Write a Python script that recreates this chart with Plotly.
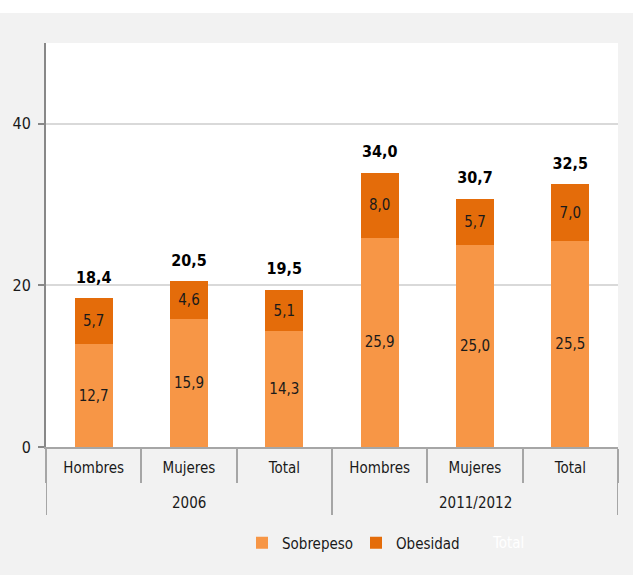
import plotly.graph_objects as go

periods = ["2006", "2006", "2006", "2011/2012", "2011/2012", "2011/2012"]
groups = ["Hombres", "Mujeres", "Total", "Hombres", "Mujeres", "Total"]
sobrepeso = [12.7, 15.9, 14.3, 25.9, 25.0, 25.5]
obesidad = [5.7, 4.6, 5.1, 8.0, 5.7, 7.0]
total = [18.4, 20.5, 19.5, 34.0, 30.7, 32.5]
y_ticks = [0, 20, 40]
period_labels = ["2006", "2011/2012"]

def fmt(v):
    return f"{v:.1f}".replace(".", ",")

FONT = "DejaVu Sans Condensed, DejaVu Sans, sans-serif"
keys = [f"{p}|{g}" for p, g in zip(periods, groups)]

PLOT_W = 633 - 46 - 15
PLOT_H = 575 - 43 - 128

fig = go.Figure()
fig.add_trace(go.Bar(
    x=keys, y=sobrepeso, name="Sobrepeso", marker=dict(color="#F79646", line=dict(width=0)),
    text=[fmt(v) for v in sobrepeso], textposition="inside", insidetextanchor="middle",
    textangle=0, textfont=dict(color="#1a1a1a", size=15, family=FONT),
))
fig.add_trace(go.Bar(
    x=keys, y=obesidad, name="Obesidad", marker=dict(color="#E46C0A", line=dict(width=0)),
    text=[fmt(v) for v in obesidad], textposition="inside", insidetextanchor="middle",
    textangle=0, textfont=dict(color="#1a1a1a", size=15, family=FONT),
))
fig.add_trace(go.Scatter(
    x=keys, y=total, name="Total", mode="markers+text", showlegend=False,
    marker=dict(size=17, color="rgba(0,0,0,0)"),
    text=["<b>" + fmt(v) + "</b>" for v in total], textposition="top center",
    textfont=dict(color="#000000", size=16, family=FONT), hoverinfo="skip",
))

annotations = []
for lab in period_labels:
    idx = [i for i, p in enumerate(periods) if p == lab]
    mid = (idx[0] + idx[-1]) / 2
    annotations.append(dict(x=mid, xref="x", y=-(503 - 447) / PLOT_H, yref="paper",
                            text=lab, showarrow=False, yanchor="middle",
                            font=dict(size=15, family=FONT, color="#1a1a1a")))
# legend entry of the "Total" series (white text, no symbol)
annotations.append(dict(x=(490 - 46) / PLOT_W, xref="paper", xanchor="left",
                        y=-(543 - 447) / PLOT_H, yref="paper", yanchor="middle",
                        text="Total", showarrow=False,
                        font=dict(size=15, family=FONT, color="#ffffff")))

shapes = [dict(type="rect", xref="paper", yref="paper", x0=-0.2, x1=1.2,
               y0=1 + 30 / PLOT_H, y1=1 + 50 / PLOT_H, fillcolor="#ffffff",
               line=dict(width=0), layer="below")]
bounds = [-0.5]
for i in range(1, len(periods)):
    if periods[i] != periods[i - 1]:
        bounds.append(i - 0.5)
bounds.append(len(periods) - 0.5)
for b in bounds:
    shapes.append(dict(type="line", xref="x", yref="paper", x0=b, x1=b,
                       y0=0, y1=-(515 - 447) / PLOT_H,
                       line=dict(color="#a6a6a6", width=2)))

fig.update_layout(
    width=633, height=575,
    barmode="stack", bargap=0.6,
    paper_bgcolor="#f2f2f2", plot_bgcolor="#ffffff",
    margin=dict(l=46, r=15, t=43, b=128, autoexpand=False),
    font=dict(family=FONT, size=15, color="#1a1a1a"),
    showlegend=True,
    legend=dict(orientation="h", x=(242 - 46) / PLOT_W, xanchor="left",
                y=-(543 - 447) / PLOT_H, yanchor="middle",
                font=dict(size=15, family=FONT), traceorder="normal",
                itemwidth=30, entrywidth=69, entrywidthmode="pixels",
                bgcolor="rgba(0,0,0,0)"),
    xaxis=dict(type="category", tickvals=keys, ticktext=groups,
               showline=True, linecolor="#a6a6a6", linewidth=2,
               ticks="outside", tickson="boundaries", ticklen=34, tickcolor="#a6a6a6",
               tickwidth=2, tickfont=dict(size=15, family=FONT, color="#1a1a1a"),
               ticklabelstandoff=6, range=[-0.5, len(keys) - 0.5]),
    yaxis=dict(range=[0, 50], tickvals=y_ticks, showgrid=True, gridcolor="#d9d9d9",
               gridwidth=2, showline=True, linecolor="#888888", linewidth=2,
               ticks="outside", ticklen=6, tickcolor="#888888", tickwidth=2,
               zeroline=False, ticklabelstandoff=4,
               tickfont=dict(size=16, family=FONT, color="#1a1a1a")),
    shapes=shapes,
    annotations=annotations,
)

fig.write_html("out.html", config={"displayModeBar": False},
               post_script="document.body.style.margin='0px';")
